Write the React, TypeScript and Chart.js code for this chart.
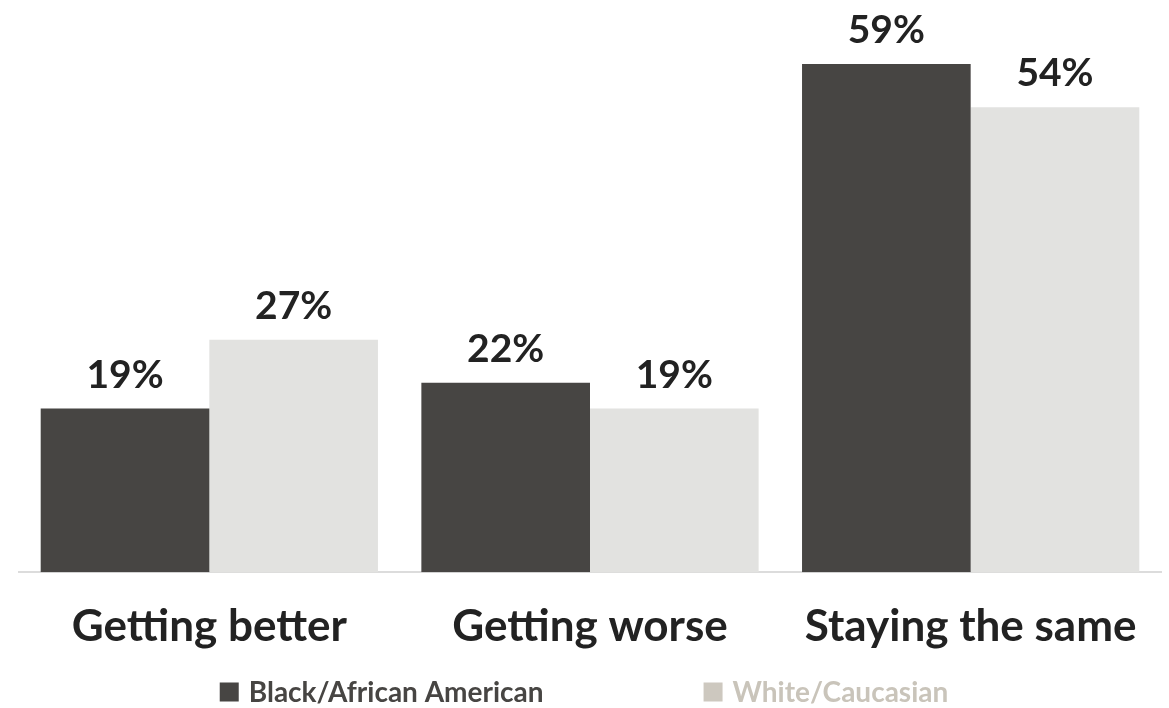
import React, { useEffect, useRef } from "react";
import { Chart, registerables } from "chart.js";

Chart.register(...registerables);

const categories = ["Getting better", "Getting worse", "Staying the same"];
const blackValues = [19, 22, 59];
const whiteValues = [27, 19, 54];
const seriesNames = ["Black/African American", "White/Caucasian"];

const FONT = "Lato, 'Open Sans', sans-serif";
const DARK = "#474543";
const LIGHT = "#e2e2e0";
const LEGEND_COLORS = ["#474543", "#cdc8bf"];
const LEGEND_TEXT = ["#474543", "#c9c4ba"];

const valueLabels = {
  id: "valueLabels",
  afterDatasetsDraw(chart: any) {
    const ctx = chart.ctx;
    ctx.save();
    ctx.font = `bold 39px ${FONT}`;
    ctx.fillStyle = "#222222";
    ctx.textAlign = "center";
    ctx.textBaseline = "alphabetic";
    chart.data.datasets.forEach((ds: any, di: number) => {
      const meta = chart.getDatasetMeta(di);
      meta.data.forEach((bar: any, i: number) => {
        ctx.fillText(`${ds.data[i]}%`, bar.x, bar.y - 21);
      });
    });
    ctx.restore();
  },
};

const customLegend = {
  id: "customLegend",
  afterDraw(chart: any) {
    const ctx = chart.ctx;
    ctx.save();
    ctx.font = `bold 28px ${FONT}`;
    ctx.textBaseline = "middle";
    ctx.textAlign = "left";
    const box = 19;
    const gapBoxText = 10;
    const gapItems = 160;
    const labels = chart.data.datasets.map((d: any) => d.label);
    const widths = labels.map((l: string) => box + gapBoxText + ctx.measureText(l).width);
    const total = widths.reduce((a: number, b: number) => a + b, 0) + gapItems * (labels.length - 1);
    const cx = (chart.chartArea.left + chart.chartArea.right) / 2 - 6;
    let x = cx - total / 2;
    const y = 692;
    labels.forEach((l: string, i: number) => {
      ctx.fillStyle = LEGEND_COLORS[i];
      ctx.fillRect(x, y - box / 2, box, box);
      ctx.fillStyle = LEGEND_TEXT[i];
      ctx.fillText(l, x + box + gapBoxText, y + 1);
      x += widths[i] + gapItems;
    });
    ctx.restore();
  },
};

export default function App() {
  const ref = useRef<HTMLCanvasElement>(null);
  useEffect(() => {
    if (!ref.current) return;
    const chart = new Chart(ref.current, {
      type: "bar",
      data: {
        labels: categories,
        datasets: [
          { label: seriesNames[0], data: blackValues, backgroundColor: DARK, borderWidth: 0 },
          { label: seriesNames[1], data: whiteValues, backgroundColor: LIGHT, borderWidth: 0 },
        ],
      },
      options: {
        animation: false,
        responsive: false,
        maintainAspectRatio: false,
        layout: { padding: { top: 21, left: 19, right: 8, bottom: 27 } },
        plugins: {
          legend: { display: false },
          tooltip: { enabled: false },
        },
        datasets: { bar: { categoryPercentage: 0.886, barPercentage: 1 } },
        scales: {
          x: {
            grid: { display: false, drawTicks: false },
            border: { display: true, color: "#dcdcdc", width: 2 },
            ticks: {
              color: "#222222",
              font: { family: FONT, size: 44, weight: "bold" },
              padding: 28,
              maxRotation: 0,
              autoSkip: false,
            },
          },
          y: {
            display: false,
            min: 0,
            max: 64,
          },
        },
      },
      plugins: [valueLabels, customLegend],
    });
    return () => chart.destroy();
  }, []);
  return (
    <canvas
      ref={ref}
      width={1169}
      height={708}
      style={{ position: "fixed", left: 0, top: 0, width: 1169, height: 708 }}
    />
  );
}
